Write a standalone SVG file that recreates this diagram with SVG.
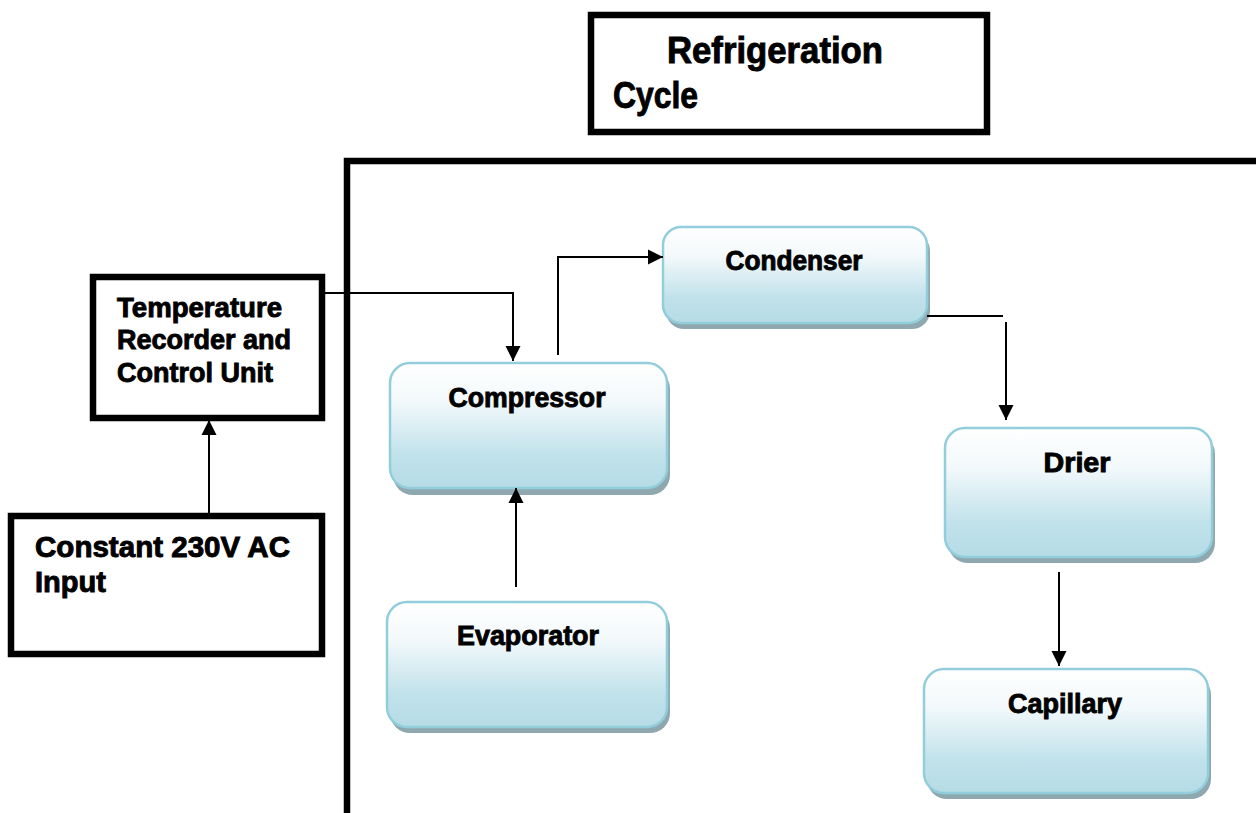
<svg xmlns="http://www.w3.org/2000/svg" width="1256" height="813" viewBox="0 0 1256 813">
<style>
.frame{fill:none;stroke:#000;stroke-width:6.5}
.blk{fill:#fff;stroke:#000;stroke-width:6.5}
.node{fill:url(#g);stroke:#92cddc;stroke-width:2.5}
.shadow{fill:#8fa8b0}
.t{font-family:"Liberation Sans",Arial,sans-serif;font-weight:bold;fill:#000;stroke:#000;stroke-width:0.9}
.c{text-anchor:middle;font-size:27px}
.conn{fill:none;stroke:#000;stroke-width:2}
</style>
<defs>
<linearGradient id="g" x1="0" y1="0" x2="0" y2="1">
<stop offset="0" stop-color="#ffffff"/>
<stop offset="0.3" stop-color="#f3f9fb"/>
<stop offset="0.75" stop-color="#bfe1ea"/>
<stop offset="1" stop-color="#b6dce6"/>
</linearGradient>
<marker id="ah" markerUnits="userSpaceOnUse" markerWidth="16" markerHeight="16" refX="15" refY="8" orient="auto">
<path d="M0,0.5 L15,8 L0,15.5 Z" fill="#000"/>
</marker>
</defs>

<g id="frame">
<path class="frame" d="M347 813 V161 H1256"/>
</g>

<g id="title">
<rect class="blk" x="591" y="15" width="396" height="117"/>
<text class="t" x="667" y="63" font-size="36" textLength="216" lengthAdjust="spacingAndGlyphs">Refrigeration</text>
<text class="t" x="613" y="108" font-size="36" textLength="85" lengthAdjust="spacingAndGlyphs">Cycle</text>
</g>

<g id="temperature">
<rect class="blk" x="93" y="277" width="229" height="141"/>
<text class="t" font-size="27">
<tspan x="117" y="317" textLength="165" lengthAdjust="spacingAndGlyphs">Temperature</tspan>
<tspan x="117" y="349" textLength="174" lengthAdjust="spacingAndGlyphs">Recorder and</tspan>
<tspan x="117" y="382">Control Unit</tspan>
</text>
</g>

<g id="constant">
<rect class="blk" x="11" y="516" width="311" height="138"/>
<text class="t" font-size="29">
<tspan x="35" y="557" textLength="255" lengthAdjust="spacingAndGlyphs">Constant 230V AC</tspan>
<tspan x="35" y="592">Input</tspan>
</text>
</g>

<g id="compressor">
<rect class="shadow" x="393" y="369" width="277" height="126" rx="20"/>
<rect class="node" x="390" y="363" width="277" height="125" rx="20"/>
<text class="t c" x="527" y="407" textLength="157" lengthAdjust="spacingAndGlyphs">Compressor</text>
</g>

<g id="condenser">
<rect class="shadow" x="666" y="233" width="264" height="96" rx="18"/>
<rect class="node" x="663" y="227" width="264" height="96" rx="18"/>
<text class="t c" x="794" y="270" textLength="137" lengthAdjust="spacingAndGlyphs">Condenser</text>
</g>

<g id="drier">
<rect class="shadow" x="948" y="434" width="267" height="129" rx="20"/>
<rect class="node" x="945" y="428" width="267" height="129" rx="20"/>
<text class="t c" x="1077" y="472" textLength="67" lengthAdjust="spacingAndGlyphs">Drier</text>
</g>

<g id="capillary">
<rect class="shadow" x="927" y="675" width="284" height="124" rx="20"/>
<rect class="node" x="924" y="669" width="284" height="124" rx="20"/>
<text class="t c" x="1065" y="713" textLength="114" lengthAdjust="spacingAndGlyphs">Capillary</text>
</g>

<g id="evaporator">
<rect class="shadow" x="390" y="608" width="280" height="125" rx="20"/>
<rect class="node" x="387" y="602" width="280" height="125" rx="20"/>
<text class="t c" x="528" y="645" textLength="142" lengthAdjust="spacingAndGlyphs">Evaporator</text>
</g>

<g id="connectors">
<path class="conn" d="M325 293 H513 V361" marker-end="url(#ah)"/>
<path class="conn" d="M558 355 V257 H663" marker-end="url(#ah)"/>
<path class="conn" d="M927 316 H1003"/>
<path class="conn" d="M1006 322 V420" marker-end="url(#ah)"/>
<path class="conn" d="M1059 572 V666" marker-end="url(#ah)"/>
<path class="conn" d="M516 587 V488" marker-end="url(#ah)"/>
<path class="conn" d="M209 513 V420" marker-end="url(#ah)"/>
</g>
</svg>
